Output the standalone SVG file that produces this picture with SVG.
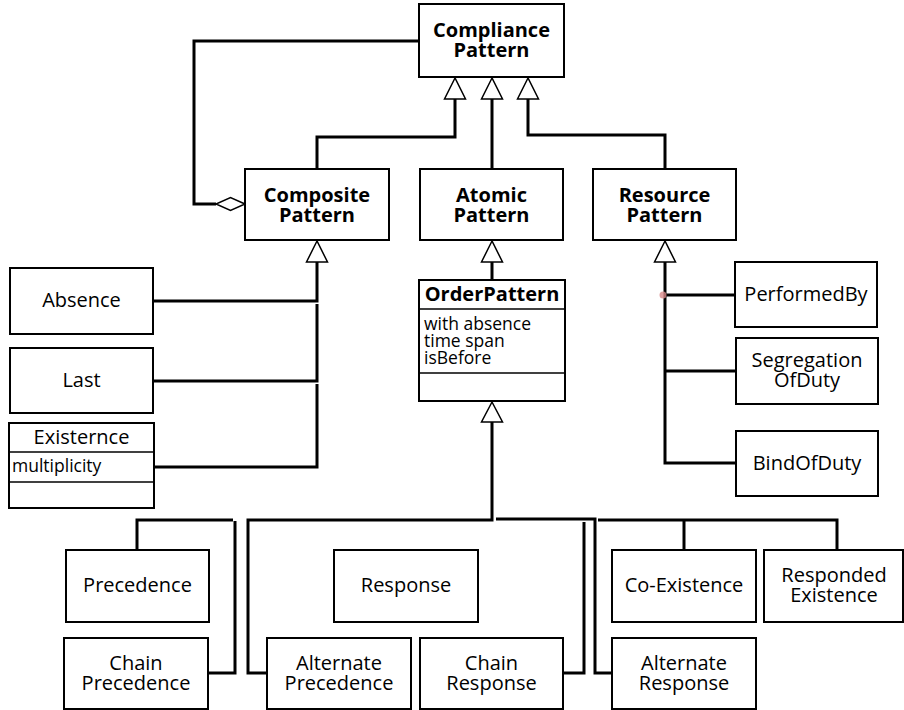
<svg xmlns="http://www.w3.org/2000/svg" width="904" height="710" viewBox="0 0 904 710">
<style>
.box{fill:#fff;stroke:#000;stroke-width:2}
.div{stroke:#000;stroke-width:1.5}
.ln{fill:none;stroke:#000;stroke-width:3}
.tri{fill:#fff;stroke:#000;stroke-width:1.5}
text{font-family:"Open Sans","Noto Sans","DejaVu Sans",sans-serif;font-size:20px;fill:#000;text-anchor:middle}
.b{font-weight:bold}
.s{font-size:17.5px;text-anchor:start}
</style>
<rect width="904" height="710" fill="#fff"/>
<g id="connectors">
<polyline class="ln" points="419,41 194,41 194,204 216,204"/>
<polygon class="tri" points="245,204 230.5,197.5 216,204 230.5,210.5"/>
<polyline class="ln" points="317,169 317,137 455,137 455,99"/>
<polyline class="ln" points="492,169 492,99"/>
<polyline class="ln" points="665,169 665,135 528,135 528,99"/>
<polygon class="tri" points="455,78 444.5,99 465.5,99"/>
<polygon class="tri" points="492,78 481.5,99 502.5,99"/>
<polygon class="tri" points="528,78 517.5,99 538.5,99"/>
<polyline class="ln" points="317,262 317,301 153,301"/>
<polyline class="ln" points="317,304 317,381 153,381"/>
<polyline class="ln" points="317,384 317,467 154,467"/>
<polygon class="tri" points="317,241 306.5,262 327.5,262"/>
<polyline class="ln" points="492,262 492,280"/>
<polygon class="tri" points="492,241 481.5,262 502.5,262"/>
<polyline class="ln" points="665,262 665,463 736,463"/>
<line class="ln" x1="665" y1="295" x2="735" y2="295"/>
<line class="ln" x1="665" y1="371" x2="736" y2="371"/>
<circle cx="663" cy="295" r="3.5" fill="#d98a8a" opacity="0.8"/>
<polygon class="tri" points="665,241 654.5,262 675.5,262"/>
<polyline class="ln" points="492,422 492,520 248,520 248,673 267,673"/>
<polygon class="tri" points="492,402 481.5,422 502.5,422"/>
<polyline class="ln" points="137,550 137,520 233,520"/>
<polyline class="ln" points="235,521 235,673 208,673"/>
<polyline class="ln" points="496,519 595,519 595,673 612,673"/>
<polyline class="ln" points="584,522 584,673 563,673"/>
<polyline class="ln" points="598,520 837,520 837,550"/>
<line class="ln" x1="684" y1="520" x2="684" y2="550"/>
</g>
<g id="compliance"><rect class="box" x="419" y="4" width="145" height="73"/><text class="b" x="491.5" y="37">Compliance</text><text class="b" x="491.5" y="57">Pattern</text></g>
<g id="composite"><rect class="box" x="245" y="169" width="144" height="71"/><text class="b" x="317" y="202">Composite</text><text class="b" x="317" y="222">Pattern</text></g>
<g id="atomic"><rect class="box" x="420" y="169" width="143" height="71"/><text class="b" x="491.5" y="202">Atomic</text><text class="b" x="491.5" y="222">Pattern</text></g>
<g id="resource"><rect class="box" x="593" y="169" width="143" height="71"/><text class="b" x="664.5" y="202">Resource</text><text class="b" x="664.5" y="222">Pattern</text></g>
<g id="absence"><rect class="box" x="10" y="268" width="143" height="66"/><text x="81.5" y="307">Absence</text></g>
<g id="last"><rect class="box" x="10" y="348" width="143" height="65"/><text x="81.5" y="387">Last</text></g>
<g id="existernce"><rect class="box" x="9" y="423" width="145" height="85"/><line class="div" x1="9" y1="452" x2="154" y2="452"/><line class="div" x1="9" y1="482" x2="154" y2="482"/><text x="81.5" y="444">Existernce</text><text class="s" x="12" y="472">multiplicity</text></g>
<g id="orderpattern"><rect class="box" x="419" y="280" width="146" height="121"/><line class="div" x1="419" y1="309" x2="565" y2="309"/><line class="div" x1="419" y1="373" x2="565" y2="373"/><text class="b" x="492" y="301">OrderPattern</text><text class="s" x="424" y="330">with absence</text><text class="s" x="424" y="347">time span</text><text class="s" x="424" y="364">isBefore</text></g>
<g id="performedby"><rect class="box" x="735" y="262" width="142" height="65"/><text x="806" y="301">PerformedBy</text></g>
<g id="segregation"><rect class="box" x="736" y="338" width="142" height="66"/><text x="807" y="367">Segregation</text><text x="807" y="387">OfDuty</text></g>
<g id="bindofduty"><rect class="box" x="736" y="431" width="142" height="65"/><text x="807" y="470">BindOfDuty</text></g>
<g id="precedence"><rect class="box" x="66" y="550" width="143" height="72"/><text x="137.5" y="592">Precedence</text></g>
<g id="chainprecedence"><rect class="box" x="64" y="638" width="144" height="71"/><text x="136" y="670">Chain</text><text x="136" y="690">Precedence</text></g>
<g id="alternateprecedence"><rect class="box" x="267" y="638" width="144" height="71"/><text x="339" y="670">Alternate</text><text x="339" y="690">Precedence</text></g>
<g id="response"><rect class="box" x="334" y="550" width="144" height="72"/><text x="406" y="592">Response</text></g>
<g id="chainresponse"><rect class="box" x="420" y="638" width="143" height="71"/><text x="491.5" y="670">Chain</text><text x="491.5" y="690">Response</text></g>
<g id="coexistence"><rect class="box" x="612" y="550" width="144" height="72"/><text x="684" y="592">Co-Existence</text></g>
<g id="respondedexistence"><rect class="box" x="764" y="550" width="139" height="72"/><text x="834" y="582">Responded</text><text x="834" y="602">Existence</text></g>
<g id="alternateresponse"><rect class="box" x="612" y="638" width="144" height="71"/><text x="684" y="670">Alternate</text><text x="684" y="690">Response</text></g>
</svg>
